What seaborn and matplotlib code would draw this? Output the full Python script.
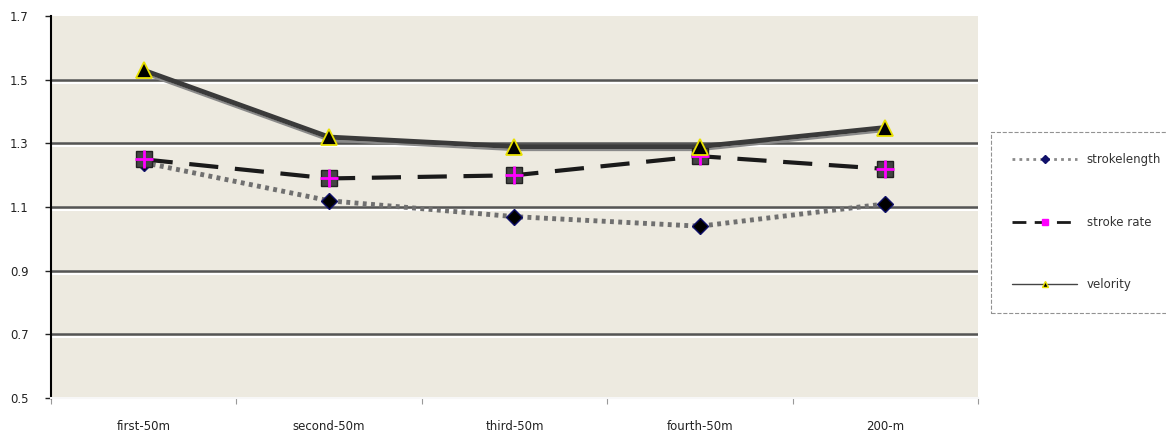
import numpy as np
import pandas as pd
import seaborn as sns
import matplotlib
matplotlib.use("Agg")
import matplotlib.pyplot as plt
import matplotlib.patheffects as pe
from matplotlib.lines import Line2D

# data
categories = ["first-50m", "second-50m", "third-50m", "fourth-50m", "200-m"]
stroke_length = [1.24, 1.12, 1.07, 1.04, 1.11]
stroke_rate = [1.25, 1.19, 1.20, 1.26, 1.22]
velocity = [1.53, 1.32, 1.29, 1.29, 1.35]
yticks = [0.5, 0.7, 0.9, 1.1, 1.3, 1.5, 1.7]

sns.set_style("white")
plt.rcParams["font.family"] = ["DejaVu Sans"]

fig = plt.figure(figsize=(11.66, 4.36), dpi=100)
ax = fig.add_axes([0.0437, 0.087, 0.795, 0.876])
ax.set_facecolor("#edeae0")

x = np.arange(len(categories))

# velocity - thick double line
sns.lineplot(x=x, y=velocity, ax=ax, color="#3a3a3a", lw=3.5, zorder=4,
             path_effects=[pe.Stroke(offset=(0, -2.5), linewidth=1.5, foreground="#8a8a8a"),
                           pe.Normal()])
ax.plot(x, velocity, ls="none", marker="^", ms=11, mfc="black", mec="#e8e000", mew=1.3, zorder=7)

# stroke rate - dashed
sns.lineplot(x=x, y=stroke_rate, ax=ax, color="#1a1a1a", lw=3, zorder=4)
ax.lines[-1].set_dashes([7, 4])
ax.plot(x, stroke_rate, ls="none", marker="s", ms=11, mfc="#444444", mec="#222222", zorder=6)
ax.plot(x, stroke_rate, ls="none", marker="+", ms=13, mec="#ff00ff", mew=2, zorder=6)

# stroke length - dotted
sns.lineplot(x=x, y=stroke_length, ax=ax, color="#707070", lw=3.5, zorder=3)
ax.lines[-1].set_dashes([0.8, 0.9])
ax.plot(x, stroke_length, ls="none", marker="D", ms=8, mfc="black", mec="#10106a", zorder=5)

ax.set_xlim(-0.5, 4.5)
ax.set_ylim(0.5, 1.7)
ax.set_yticks(yticks)
ax.set_yticklabels(["%.1f" % v for v in yticks], fontsize=8.5, color="#222222")
ax.set_xticks(x)
ax.set_xticklabels(categories, fontsize=8.5, color="#222222")
ax.set_xticks(np.arange(-0.5, 5, 1), minor=True)
ax.tick_params(axis="x", which="both", bottom=True)
ax.tick_params(axis="x", which="major", length=0, pad=16)
ax.tick_params(axis="x", which="minor", length=4, color="#999999", width=0.8)
ax.tick_params(axis="y", left=True, length=4, width=1, color="#222222", pad=12)

for v in yticks[1:-1]:
    ax.axhline(v, color="#555555", lw=1.8, zorder=1,
               path_effects=[pe.Stroke(offset=(0, -2), linewidth=1.5, foreground="white"),
                             pe.Normal()])

ax.spines["top"].set_visible(False)
ax.spines["right"].set_visible(False)
ax.spines["left"].set_color("black")
ax.spines["left"].set_linewidth(1.5)
ax.spines["bottom"].set_color("#f7f7f7")
ax.spines["bottom"].set_linewidth(1.5)

handles = [
    Line2D([], [], color="#8a8a8a", lw=2, dashes=[1, 1.5], marker="D", ms=4, mfc="#10106a", mec="#10106a"),
    Line2D([], [], color="#1a1a1a", lw=2, dashes=[5, 3], marker="s", ms=5, mfc="#ff00ff", mec="#ff00ff"),
    Line2D([], [], color="#444444", lw=1, marker="^", ms=5, mfc="black", mec="#e8e000"),
]
leg = fig.legend(handles, ["strokelength", "stroke rate", "velority"],
                 loc="center left", bbox_to_anchor=(0.845, 0.49), fontsize=8.5,
                 labelspacing=4.2, handlelength=5.5, borderpad=1.8, fancybox=False,
                 frameon=True, handletextpad=0.8)
leg.get_frame().set_edgecolor("#777777")
leg.get_frame().set_linestyle("--")
leg.get_frame().set_linewidth(0.8)
for t in leg.get_texts():
    t.set_color("#333333")

fig.savefig("out.png", dpi=100)
